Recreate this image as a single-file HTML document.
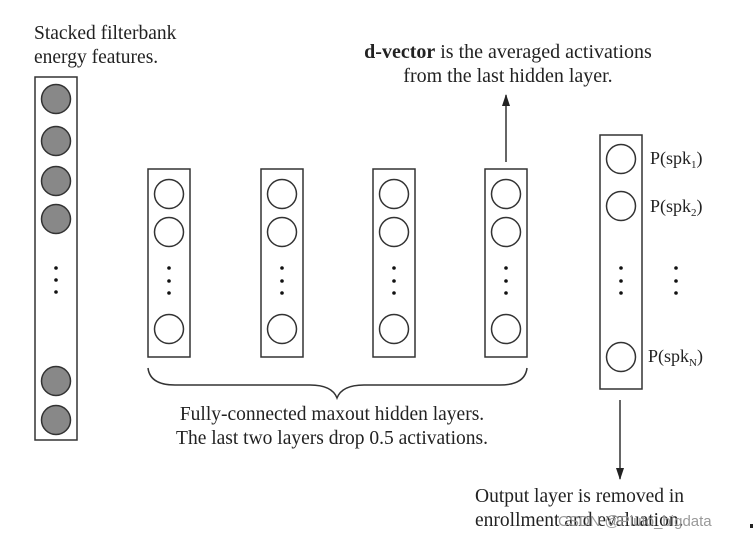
<!DOCTYPE html>
<html><head><style>
body{margin:0;width:754px;height:540px;background:#fff;overflow:hidden}
</style></head><body>
<svg width="754" height="540" xmlns="http://www.w3.org/2000/svg" font-family="Liberation Serif, serif" font-size="19.5" fill="#222">
<defs><marker id="a" markerWidth="12" markerHeight="10" refX="11" refY="5" orient="auto" markerUnits="userSpaceOnUse"><path d="M0,1 L12,5 L0,9 z" fill="#222"/></marker></defs>
<text x="34" y="39">Stacked filterbank</text>
<text x="34" y="63">energy features.</text>
<g stroke="#333" stroke-width="1.5" fill="none">
<rect x="35" y="77" width="42" height="363"/>
<g fill="#888"><circle cx="56" cy="99" r="14.5"/><circle cx="56" cy="141" r="14.5"/><circle cx="56" cy="181" r="14.5"/><circle cx="56" cy="219" r="14.5"/><circle cx="56" cy="381" r="14.5"/><circle cx="56" cy="420" r="14.5"/></g>
<rect x="148" y="169" width="42" height="188"/><rect x="261" y="169" width="42" height="188"/><rect x="373" y="169" width="42" height="188"/><rect x="485" y="169" width="42" height="188"/>
<g><circle cx="169" cy="194" r="14.5"/><circle cx="169" cy="232" r="14.5"/><circle cx="169" cy="329" r="14.5"/>
<circle cx="282" cy="194" r="14.5"/><circle cx="282" cy="232" r="14.5"/><circle cx="282" cy="329" r="14.5"/>
<circle cx="394" cy="194" r="14.5"/><circle cx="394" cy="232" r="14.5"/><circle cx="394" cy="329" r="14.5"/>
<circle cx="506" cy="194" r="14.5"/><circle cx="506" cy="232" r="14.5"/><circle cx="506" cy="329" r="14.5"/></g>
<rect x="600" y="135" width="42" height="254"/>
<circle cx="621" cy="159" r="14.5"/><circle cx="621" cy="206" r="14.5"/><circle cx="621" cy="357" r="14.5"/>
<path d="M148,368 Q150,385 175,385 L310,385 Q332,385 337,398 Q342,385 364,385 L500,385 Q525,385 527,368"/>
<line x1="506" y1="162" x2="506" y2="95" marker-end="url(#a)"/>
<line x1="620" y1="400" x2="620" y2="479" marker-end="url(#a)"/>
</g>
<g fill="#111">
<circle cx="56" cy="268" r="1.8"/><circle cx="56" cy="280" r="1.8"/><circle cx="56" cy="292" r="1.8"/>
<circle cx="169" cy="268" r="1.8"/><circle cx="169" cy="281" r="1.8"/><circle cx="169" cy="293" r="1.8"/>
<circle cx="282" cy="268" r="1.8"/><circle cx="282" cy="281" r="1.8"/><circle cx="282" cy="293" r="1.8"/>
<circle cx="394" cy="268" r="1.8"/><circle cx="394" cy="281" r="1.8"/><circle cx="394" cy="293" r="1.8"/>
<circle cx="506" cy="268" r="1.8"/><circle cx="506" cy="281" r="1.8"/><circle cx="506" cy="293" r="1.8"/>
<circle cx="621" cy="268" r="1.8"/><circle cx="621" cy="281" r="1.8"/><circle cx="621" cy="293" r="1.8"/>
<circle cx="676" cy="268" r="1.8"/><circle cx="676" cy="281" r="1.8"/><circle cx="676" cy="293" r="1.8"/>
</g>
<g font-size="18">
<text x="650" y="164">P(spk<tspan font-size="11" dy="4">1</tspan><tspan dy="-4">)</tspan></text>
<text x="650" y="212">P(spk<tspan font-size="11" dy="4">2</tspan><tspan dy="-4">)</tspan></text>
<text x="648" y="362">P(spk<tspan font-size="11" dy="4">N</tspan><tspan dy="-4">)</tspan></text>
</g>
<g font-size="20">
<text x="508" y="58" text-anchor="middle"><tspan font-weight="bold">d-vector</tspan> is the averaged activations</text>
<text x="508" y="82" text-anchor="middle">from the last hidden layer.</text>
</g>
<text x="332" y="420" text-anchor="middle">Fully-connected maxout hidden layers.</text>
<text x="332" y="444" text-anchor="middle">The last two layers drop 0.5 activations.</text>
<text x="475" y="502">Output layer is removed in</text>
<text x="475" y="526">enrollment and evaluation.</text>
<text x="558" y="526" font-family="Liberation Sans, sans-serif" font-size="15" fill="#999">CSDN @Pluto_bigdata</text>
<rect x="750" y="524" width="3" height="4" fill="#222"/>
</svg>
</body></html>
